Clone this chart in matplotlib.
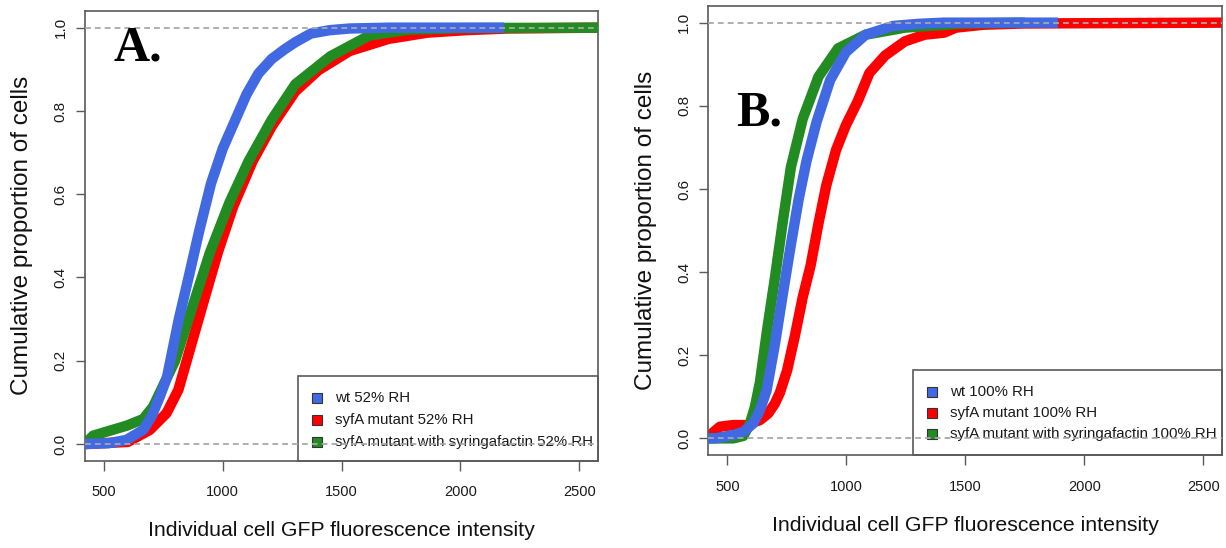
import matplotlib
matplotlib.use('Agg')
import matplotlib.pyplot as plt
from matplotlib.patches import Rectangle

plt.rcParams['font.family'] = ['Liberation Sans', 'DejaVu Sans']
plt.rcParams['lines.scale_dashes'] = False

# ---------------- data ----------------
x_ticks = [500, 1000, 1500, 2000, 2500]
y_ticks = [0.0, 0.2, 0.4, 0.6, 0.8, 1.0]
y_tick_labels = ["0.0", "0.2", "0.4", "0.6", "0.8", "1.0"]

# Panel A (52% RH)
a_wt_x = [420, 520, 595, 665, 700, 735, 765, 815, 860, 900, 950, 1000, 1050, 1100, 1150, 1206, 1260, 1305, 1371, 1450, 1534, 1700, 2184]
a_wt_y = [0.0, 0.002, 0.01, 0.034, 0.066, 0.114, 0.16, 0.30, 0.41, 0.51, 0.625, 0.71, 0.775, 0.84, 0.89, 0.925, 0.948, 0.965, 0.986, 0.994, 0.998, 1.0, 1.0]
a_syf_x = [420, 600, 693, 763, 813, 848, 913, 979, 1044, 1126, 1207, 1305, 1403, 1534, 1697, 1860, 2023, 2200, 2580]
a_syf_y = [0.0, 0.005, 0.034, 0.074, 0.13, 0.20, 0.33, 0.46, 0.571, 0.68, 0.764, 0.847, 0.898, 0.944, 0.973, 0.988, 0.994, 0.998, 1.0]
a_syr_x = [420, 454, 524, 595, 665, 707, 799, 881, 946, 1028, 1109, 1207, 1305, 1452, 1616, 1780, 2000, 2580]
a_syr_y = [0.0, 0.02, 0.032, 0.044, 0.06, 0.09, 0.20, 0.345, 0.46, 0.58, 0.68, 0.78, 0.864, 0.931, 0.981, 0.995, 0.999, 1.0]

# Panel B (100% RH)
b_wt_x = [420, 450, 525, 568, 609, 637, 665, 701, 734, 767, 800, 833, 875, 932, 998, 1081, 1196, 1300, 1411, 1889]
b_wt_y = [0.0, 0.0, 0.008, 0.016, 0.036, 0.068, 0.115, 0.23, 0.35, 0.466, 0.576, 0.668, 0.761, 0.862, 0.929, 0.971, 0.992, 0.997, 1.0, 1.0]
b_syf_x = [420, 427, 469, 525, 581, 637, 672, 700, 721, 751, 784, 817, 850, 883, 916, 957, 998, 1048, 1097, 1163, 1246, 1328, 1411, 1460, 1576, 1741, 2580]
b_syf_y = [0.0, 0.008, 0.028, 0.032, 0.032, 0.044, 0.06, 0.084, 0.11, 0.163, 0.247, 0.34, 0.416, 0.517, 0.609, 0.694, 0.753, 0.811, 0.879, 0.921, 0.955, 0.971, 0.976, 0.988, 0.995, 0.998, 1.0]
b_syr_x = [420, 525, 568, 595, 616, 637, 668, 701, 734, 767, 817, 883, 965, 1081, 1246, 1493, 1750]
b_syr_y = [0.0, 0.0, 0.006, 0.036, 0.076, 0.135, 0.264, 0.39, 0.525, 0.652, 0.769, 0.87, 0.938, 0.971, 0.988, 0.998, 1.0]

labels_a = ["wt 52% RH", "syfA mutant 52% RH", "syfA mutant with syringafactin 52% RH"]
labels_b = ["wt 100% RH", "syfA mutant 100% RH", "syfA mutant with syringafactin 100% RH"]
colors = ["#4169E1", "#FF0000", "#228B22"]   # wt, syfA, syfA + syringafactin

# ---------------- figure ----------------
fig = plt.figure(figsize=(12.26, 5.48), dpi=100)
axA = fig.add_axes([0.0693, 0.1593, 0.4187, 0.8206])
axB = fig.add_axes([0.5777, 0.1697, 0.4194, 0.8193])

spine_c = "#5a5a5a"
LW = 7.5


def panel(ax, wt, syf, syr, labels, tag, tag_xy, leg):
    # draw order: syfA, syfA+syringafactin, wt
    ax.plot(syf[0], syf[1], color=colors[1], lw=LW, solid_joinstyle='round', solid_capstyle='butt', zorder=2)
    ax.plot(syr[0], syr[1], color=colors[2], lw=LW, solid_joinstyle='round', solid_capstyle='butt', zorder=3)
    ax.plot(wt[0], wt[1], color=colors[0], lw=LW, solid_joinstyle='round', solid_capstyle='butt', zorder=4)
    for yv in (0.0, 1.0):
        ax.axhline(yv, color="#a8a8a8", lw=1.3, dashes=(4.2, 2.9), zorder=6)
    ax.set_xlim(420, 2580)
    ax.set_ylim(-0.04, 1.04)
    ax.set_xticks(x_ticks)
    ax.set_xticklabels([str(t) for t in x_ticks])
    ax.set_yticks(y_ticks)
    ax.set_yticklabels(y_tick_labels, rotation=90, va='center')
    ax.tick_params(axis='x', direction='out', length=7.2, width=1.0, color=spine_c,
                   labelsize=10.5, pad=10.5, labelcolor="#1a1a1a")
    ax.tick_params(axis='y', direction='out', length=6.5, width=1.0, color=spine_c,
                   labelsize=11, pad=6.0, labelcolor="#1a1a1a")
    for s in ax.spines.values():
        s.set_color(spine_c)
        s.set_linewidth(1.2)
    ax.set_xlabel("Individual cell GFP fluorescence intensity", fontsize=15.3, color="#111111")
    ax.xaxis.set_label_coords(0.5, -0.135)
    ax.set_ylabel("Cumulative proportion of cells", fontsize=17.5, color="#111111")
    ax.yaxis.set_label_coords(-0.1005, 0.5)
    ax.text(tag_xy[0], tag_xy[1], tag, transform=ax.transAxes, fontsize=36,
            fontweight='bold', family=['Liberation Serif', 'DejaVu Serif'],
            ha='left', va='baseline', zorder=7)
    # legend (R-style box reaching the right and bottom axes edges)
    lx, ltop, rows, mx, tx = leg
    ax.add_patch(Rectangle((lx, 0), 1 - lx, ltop, transform=ax.transAxes,
                           facecolor='none', edgecolor=spine_c, lw=1.2, zorder=5, clip_on=False))
    for i, ry in enumerate(rows):
        ax.plot([mx], [ry], marker='s', markersize=7.4, markerfacecolor=colors[i],
                markeredgecolor="#333333", markeredgewidth=0.8, linestyle='none',
                transform=ax.transAxes, zorder=5, clip_on=False)
        ax.text(tx, ry, labels[i], transform=ax.transAxes, fontsize=10.8,
                ha='left', va='center', color="#1a1a1a", zorder=5)


panel(axA, (a_wt_x, a_wt_y), (a_syf_x, a_syf_y), (a_syr_x, a_syr_y), labels_a,
      "A.", (0.055, 0.891), (0.4155, 0.189, [0.1388, 0.0905, 0.0423], 0.4517, 0.487))
panel(axB, (b_wt_x, b_wt_y), (b_syf_x, b_syf_y), (b_syr_x, b_syr_y), labels_b,
      "B.", (0.055, 0.735), (0.3987, 0.1893, [0.1396, 0.0929, 0.0468], 0.435, 0.4701))

fig.savefig("out.png", dpi=100)
